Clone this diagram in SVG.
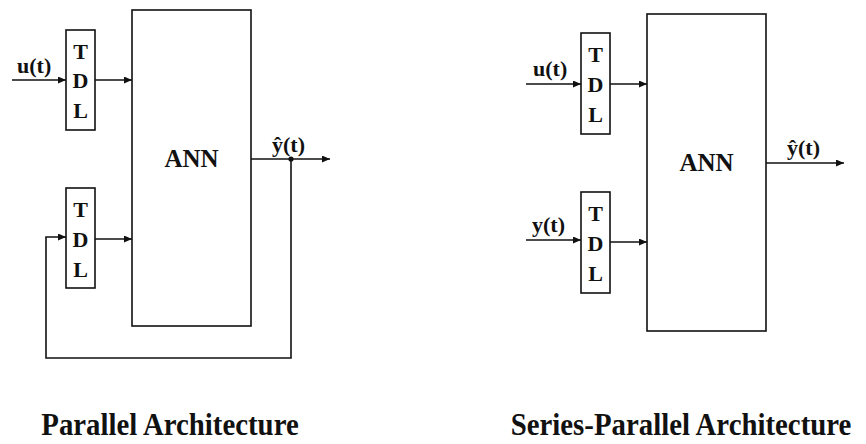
<svg xmlns="http://www.w3.org/2000/svg" width="866" height="444" viewBox="0 0 866 444">
<style>
.box{fill:#fff;stroke:#111;stroke-width:1.6}
.ln{fill:none;stroke:#111;stroke-width:1.6}
.arr{marker-end:url(#ah)}
text{font-family:"Liberation Serif","Times New Roman",serif;font-weight:bold;fill:#111}
.tdl{font-size:22px;text-anchor:middle}
.lbl{font-size:22px}
.ann{font-size:25px;text-anchor:middle}
.cap{font-size:31px;text-anchor:middle}
</style>
<defs>
<marker id="ah" markerUnits="userSpaceOnUse" markerWidth="9" markerHeight="8" refX="8" refY="3.5" orient="auto">
<path d="M0,0 L8,3.5 L0,7 z" fill="#111"/>
</marker>
</defs>
<rect width="866" height="444" fill="#fff"/>
<g id="connectors">
<path class="ln arr" d="M12,80 H66"/>
<path class="ln arr" d="M95,80 H132"/>
<path class="ln arr" d="M95,239 H132"/>
<path class="ln arr" d="M251,159 H330"/>
<path class="ln arr" d="M291,159 V358 H46 V237 H66"/>
<circle cx="291" cy="159" r="2.6" fill="#111"/>
<path class="ln arr" d="M526,84 H581"/>
<path class="ln arr" d="M610,84 H647"/>
<path class="ln arr" d="M526,240 H581"/>
<path class="ln arr" d="M610,242 H647"/>
<path class="ln arr" d="M766,163 H844"/>
</g>
<g id="p-tdl1"><rect class="box" x="66" y="30" width="29" height="100"/>
<text class="tdl" x="80.5" y="59">T</text><text class="tdl" x="80.5" y="88">D</text><text class="tdl" x="80.5" y="118">L</text></g>
<g id="p-tdl2"><rect class="box" x="66" y="188" width="29" height="100"/>
<text class="tdl" x="80.5" y="217">T</text><text class="tdl" x="80.5" y="247">D</text><text class="tdl" x="80.5" y="277">L</text></g>
<g id="p-ann"><rect class="box" x="132" y="10" width="119" height="316"/>
<text class="ann" x="191.5" y="167">ANN</text></g>
<g id="p-labels">
<text class="lbl" x="17" y="73">u(t)</text>
<text class="lbl" x="272" y="152">ŷ(t)</text>
</g>
<g id="s-tdl1"><rect class="box" x="581" y="33" width="29" height="101"/>
<text class="tdl" x="595.5" y="62">T</text><text class="tdl" x="595.5" y="92">D</text><text class="tdl" x="595.5" y="122">L</text></g>
<g id="s-tdl2"><rect class="box" x="581" y="192" width="29" height="101"/>
<text class="tdl" x="595.5" y="221">T</text><text class="tdl" x="595.5" y="251">D</text><text class="tdl" x="595.5" y="281">L</text></g>
<g id="s-ann"><rect class="box" x="647" y="14" width="119" height="317"/>
<text class="ann" x="706.5" y="171">ANN</text></g>
<g id="s-labels">
<text class="lbl" x="533" y="76">u(t)</text>
<text class="lbl" x="532" y="232">y(t)</text>
<text class="lbl" x="787" y="155">ŷ(t)</text>
</g>
<g id="captions">
<text class="cap" transform="translate(170,435) scale(0.93,1)">Parallel Architecture</text>
<text class="cap" transform="translate(681,435) scale(0.93,1)">Series-Parallel Architecture</text>
</g>
</svg>
